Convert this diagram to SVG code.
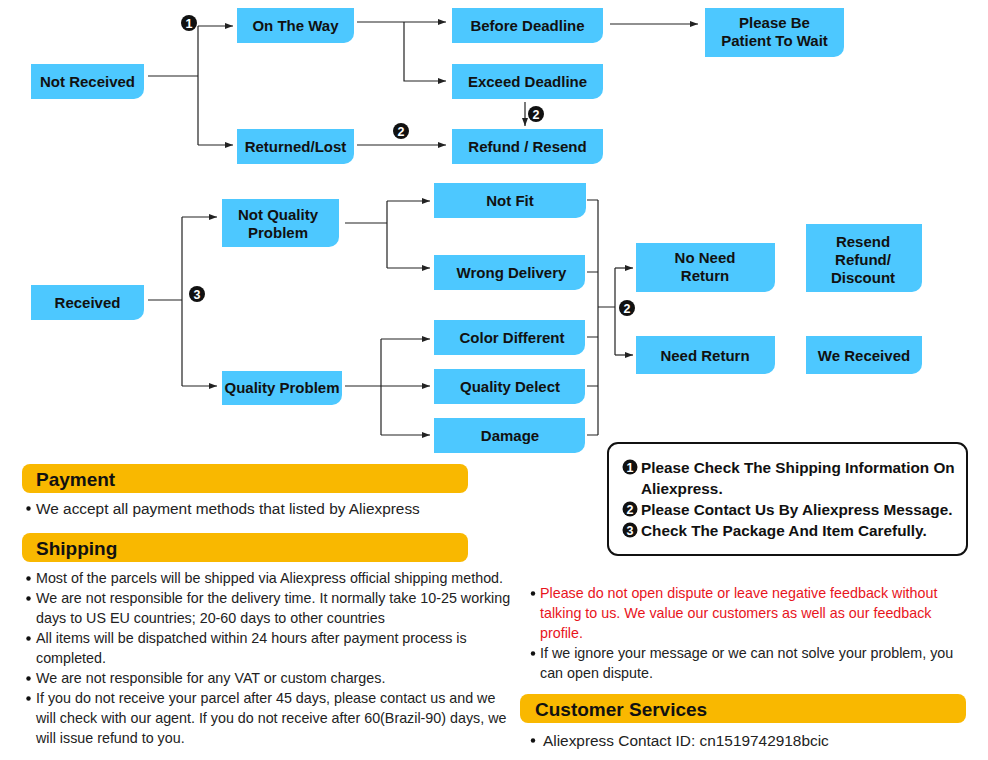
<svg xmlns="http://www.w3.org/2000/svg" width="988" height="760" viewBox="0 0 988 760">
<defs>
<marker id="arr" markerUnits="userSpaceOnUse" markerWidth="8" markerHeight="6" refX="8" refY="3" orient="auto"><path d="M0,0 L8,3 L0,6 Z" fill="#222"/></marker>
<style>
.n{fill:#4DC8FF}
.t{font-family:"Liberation Sans",Arial,sans-serif;font-weight:bold;font-size:15px;fill:#111;text-anchor:middle}
.c{fill:none;stroke:#222;stroke-width:1.2}
.a{marker-end:url(#arr)}
.b{fill:#111}
.bt{font-family:"Liberation Sans",Arial,sans-serif;font-weight:bold;font-size:12.5px;fill:#fff;text-anchor:middle}
.h{fill:#F9B800}
.ht{font-family:"Liberation Sans",Arial,sans-serif;font-weight:bold;font-size:19px;fill:#111}
.p{font-family:"Liberation Sans",Arial,sans-serif;font-size:14.3px;fill:#222}
.p2{font-size:15.4px}
.r{fill:#E8141C}
.lg{font-family:"Liberation Sans",Arial,sans-serif;font-weight:bold;font-size:15.3px;fill:#111}
</style>
</defs>
<rect width="988" height="760" fill="#fff"/>

<g id="connectors">
<path class="c" d="M148 76H198M198 26V145"/>
<path class="c a" d="M198 26H233"/>
<path class="c a" d="M198 145H233"/>
<path class="c a" d="M357 22H446"/>
<path class="c a" d="M404 22V81H446"/>
<path class="c a" d="M610 24H698"/>
<path class="c a" d="M525 102V126"/>
<path class="c a" d="M357 145H446"/>
<path class="c" d="M148 300H182M182 217V386"/>
<path class="c a" d="M182 217H217"/>
<path class="c a" d="M182 386H217"/>
<path class="c" d="M345 223H387M387 201V268"/>
<path class="c a" d="M387 201H430"/>
<path class="c a" d="M387 268H430"/>
<path class="c a" d="M345 386H430"/>
<path class="c" d="M381 339V435"/>
<path class="c a" d="M381 339H430"/>
<path class="c a" d="M381 435H430"/>
<path class="c" d="M587 200H598M587 272H598M587 337H598M587 386H598M587 435H598M598 200V435M598 307H615M615 268V355"/>
<path class="c a" d="M615 268H633"/>
<path class="c a" d="M615 355H633"/>
</g>

<g id="badges">
<circle class="b" cx="189" cy="23" r="8"/><text class="bt" x="189" y="27.5">1</text>
<circle class="b" cx="536" cy="114" r="8"/><text class="bt" x="536" y="118.5">2</text>
<circle class="b" cx="401" cy="131" r="8"/><text class="bt" x="401" y="135.5">2</text>
<circle class="b" cx="197" cy="294" r="8"/><text class="bt" x="197" y="298.5">3</text>
<circle class="b" cx="627" cy="308" r="8"/><text class="bt" x="627" y="312.5">2</text>
</g>

<g id="notReceived"><path class="n" d="M31 64h113v25a10 10 0 0 1-10 10h-103z"/><text class="t" x="87.5" y="87">Not Received</text></g>
<g id="onTheWay"><path class="n" d="M237 8h117v25a10 10 0 0 1-10 10h-107z"/><text class="t" x="295.5" y="31">On The Way</text></g>
<g id="returnedLost"><path class="n" d="M237 129h117v25a10 10 0 0 1-10 10h-107z"/><text class="t" x="295.5" y="152">Returned/Lost</text></g>
<g id="beforeDeadline"><path class="n" d="M452 8h151v25a10 10 0 0 1-10 10h-141z"/><text class="t" x="527.5" y="31">Before Deadline</text></g>
<g id="exceedDeadline"><path class="n" d="M452 64h151v25a10 10 0 0 1-10 10h-141z"/><text class="t" x="527.5" y="87">Exceed Deadline</text></g>
<g id="refundResend"><path class="n" d="M452 129h151v25a10 10 0 0 1-10 10h-141z"/><text class="t" x="527.5" y="152">Refund / Resend</text></g>
<g id="patient"><path class="n" d="M705 8h139v39a10 10 0 0 1-10 10h-129z"/><text class="t" x="774.5" y="28">Please Be</text><text class="t" x="774.5" y="46">Patient To Wait</text></g>

<g id="received"><path class="n" d="M31 285h113v25a10 10 0 0 1-10 10h-103z"/><text class="t" x="87.5" y="308">Received</text></g>
<g id="notQuality"><path class="n" d="M222 199h117v38a10 10 0 0 1-10 10h-107z"/><text class="t" x="278" y="220">Not Quality</text><text class="t" x="278" y="238">Problem</text></g>
<g id="qualityProblem"><path class="n" d="M222 371h120v24a10 10 0 0 1-10 10h-110z"/><text class="t" x="282" y="393">Quality Problem</text></g>
<g id="notFit"><path class="n" d="M434 183h152v25a10 10 0 0 1-10 10h-142z"/><text class="t" x="510" y="206">Not Fit</text></g>
<g id="wrongDelivery"><path class="n" d="M434 255h151v25a10 10 0 0 1-10 10h-141z"/><text class="t" x="511.5" y="278">Wrong Delivery</text></g>
<g id="colorDifferent"><path class="n" d="M434 320h151v25a10 10 0 0 1-10 10h-141z"/><text class="t" x="512" y="343">Color Different</text></g>
<g id="qualityDelect"><path class="n" d="M434 369h151v25a10 10 0 0 1-10 10h-141z"/><text class="t" x="510" y="392">Quality Delect</text></g>
<g id="damage"><path class="n" d="M434 418h151v25a10 10 0 0 1-10 10h-141z"/><text class="t" x="510" y="441">Damage</text></g>
<g id="noNeedReturn"><path class="n" d="M636 243h139v39a10 10 0 0 1-10 10h-129z"/><text class="t" x="705" y="263">No Need</text><text class="t" x="705" y="281">Return</text></g>
<g id="needReturn"><path class="n" d="M636 336h139v28a10 10 0 0 1-10 10h-129z"/><text class="t" x="705" y="361">Need Return</text></g>
<g id="resendRefund"><path class="n" d="M806 224h116v58a10 10 0 0 1-10 10h-106z"/><text class="t" x="863" y="247">Resend</text><text class="t" x="863" y="265">Refund/</text><text class="t" x="863" y="283">Discount</text></g>
<g id="weReceived"><path class="n" d="M806 336h116v28a10 10 0 0 1-10 10h-106z"/><text class="t" x="864" y="361">We Received</text></g>

<g id="legend">
<rect x="608" y="443" width="359" height="112" rx="10" fill="#fff" stroke="#111" stroke-width="2"/>
<circle class="b" cx="630" cy="467" r="7.5"/><text class="bt" x="630" y="471.5">1</text>
<circle class="b" cx="630" cy="509" r="7.5"/><text class="bt" x="630" y="513.5">2</text>
<circle class="b" cx="630" cy="530" r="7.5"/><text class="bt" x="630" y="534.5">3</text>
<text class="lg" x="641" y="473">Please Check The Shipping Information On</text>
<text class="lg" x="641" y="494">Aliexpress.</text>
<text class="lg" x="641" y="515">Please Contact Us By Aliexpress Message.</text>
<text class="lg" x="641" y="536">Check The Package And Item Carefully.</text>
</g>

<g id="payment">
<rect class="h" x="22" y="464" width="446" height="29" rx="8"/>
<text class="ht" x="36" y="486">Payment</text>
<circle class="b" cx="28.5" cy="508.5" r="2.2"/>
<text class="p p2" x="36" y="514">We accept all payment methods that listed by Aliexpress</text>
</g>

<g id="shipping">
<rect class="h" x="22" y="533" width="446" height="29" rx="8"/>
<text class="ht" x="36" y="555">Shipping</text>
<circle class="b" cx="28.5" cy="578.5" r="2.2"/>
<circle class="b" cx="28.5" cy="598.5" r="2.2"/>
<circle class="b" cx="28.5" cy="638.5" r="2.2"/>
<circle class="b" cx="28.5" cy="678.5" r="2.2"/>
<circle class="b" cx="28.5" cy="698.5" r="2.2"/>
<text class="p" x="36" y="583">Most of the parcels will be shipped via Aliexpress official shipping method.</text>
<text class="p" x="36" y="603">We are not responsible for the delivery time. It normally take 10-25 working</text>
<text class="p" x="36" y="623">days to US EU countries; 20-60 days to other countries</text>
<text class="p" x="36" y="643">All items will be dispatched within 24 hours after payment process is</text>
<text class="p" x="36" y="663">completed.</text>
<text class="p" x="36" y="683">We are not responsible for any VAT or custom charges.</text>
<text class="p" x="36" y="703">If you do not receive your parcel after 45 days, please contact us and we</text>
<text class="p" x="36" y="723">will check with our agent. If you do not receive after 60(Brazil-90) days, we</text>
<text class="p" x="36" y="743">will issue refund to you.</text>
</g>

<g id="notice">
<circle class="b" cx="533" cy="593.5" r="2.2"/>
<text class="p r" x="540" y="598">Please do not open dispute or leave negative feedback without</text>
<text class="p r" x="540" y="618">talking to us. We value our customers as well as our feedback</text>
<text class="p r" x="540" y="638">profile.</text>
<circle class="b" cx="533" cy="653.5" r="2.2"/>
<text class="p" x="540" y="658">If we ignore your message or we can not solve your problem, you</text>
<text class="p" x="540" y="678">can open dispute.</text>
</g>

<g id="customerServices">
<rect class="h" x="520" y="694" width="446" height="29" rx="8"/>
<text class="ht" x="535" y="716">Customer Services</text>
<circle class="b" cx="533" cy="740.5" r="2.2"/>
<text class="p p2" x="543" y="745.5">Aliexpress Contact ID: cn1519742918bcic</text>
</g>
</svg>
